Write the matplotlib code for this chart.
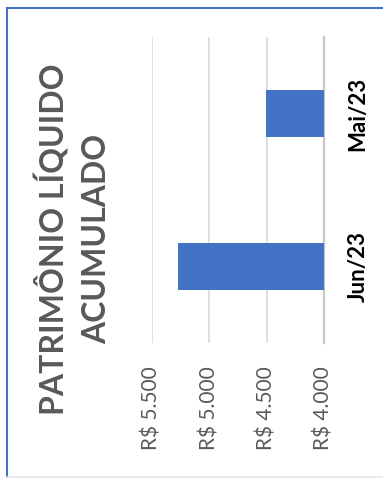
import matplotlib
matplotlib.use("Agg")
from matplotlib import pyplot as plt
from matplotlib.lines import Line2D

# monthly accumulated equity (R$)
months = ["Mai/23", "Jun/23"]
equity = [4505, 5270]
ticks = [4000, 4500, 5000, 5500]
tick_labels = ["R$ 4.000", "R$ 4.500", "R$ 5.000", "R$ 5.500"]

BAR_COLOR = "#4472C4"
TEXT_GRAY = "#595959"
GRID_GRAY = "#D9D9D9"

plt.rcParams["font.family"] = ["Lato", "DejaVu Sans"]

W, H = 383, 478
fig = plt.figure(figsize=(W / 100, H / 100), dpi=100)

def px(x0, y0, x1, y1):
    # pixel box (top-left origin) -> figure fraction rect
    return [x0 / W, 1 - y1 / H, (x1 - x0) / W, (y1 - y0) / H]

ax = fig.add_axes(px(151.7, 37, 324, 343))
ax.barh(months, equity, height=0.31, color=BAR_COLOR, zorder=3)
ax.set_xlim(ticks[-1], ticks[0])
ax.set_ylim(-0.5, 1.5)
ax.invert_yaxis()

ax.set_xticks(ticks)
ax.set_xticklabels(tick_labels, rotation=90, color=TEXT_GRAY, fontsize=15)
ax.tick_params(axis="x", length=0, pad=17)
ax.grid(axis="x", color=GRID_GRAY, lw=1.2, zorder=0)

ax.yaxis.tick_right()
ax.tick_params(axis="y", length=0, pad=17)
for lab in ax.get_yticklabels():
    lab.set_rotation(90)
    lab.set_fontweight("bold")
    lab.set_fontsize(16)
    lab.set_color("black")
    lab.set_va("center")

for side in ["top", "bottom", "left"]:
    ax.spines[side].set_visible(False)
ax.spines["right"].set_color("#C8C8C8")
ax.spines["right"].set_linewidth(1.6)

fig.text(73 / W, 1 - 239 / H, "PATRIMÔNIO LÍQUIDO\nACUMULADO",
         rotation=90, ha="center", va="center", multialignment="center",
         fontsize=23, fontweight="bold", color=TEXT_GRAY, linespacing=1.55)

# chart frame
fig.add_artist(Line2D([7 / W, 7 / W], [1 - 8 / H, 1 - 477 / H],
                      color=BAR_COLOR, lw=1.5, transform=fig.transFigure))
fig.add_artist(Line2D([7 / W, 1], [1 - 8 / H, 1 - 8 / H],
                      color=BAR_COLOR, lw=1.5, transform=fig.transFigure))
fig.add_artist(Line2D([7 / W, 1], [1 - 476.5 / H, 1 - 476.5 / H],
                      color="#E4E4EC", lw=1.2, transform=fig.transFigure))

fig.savefig("out.png", dpi=100)
